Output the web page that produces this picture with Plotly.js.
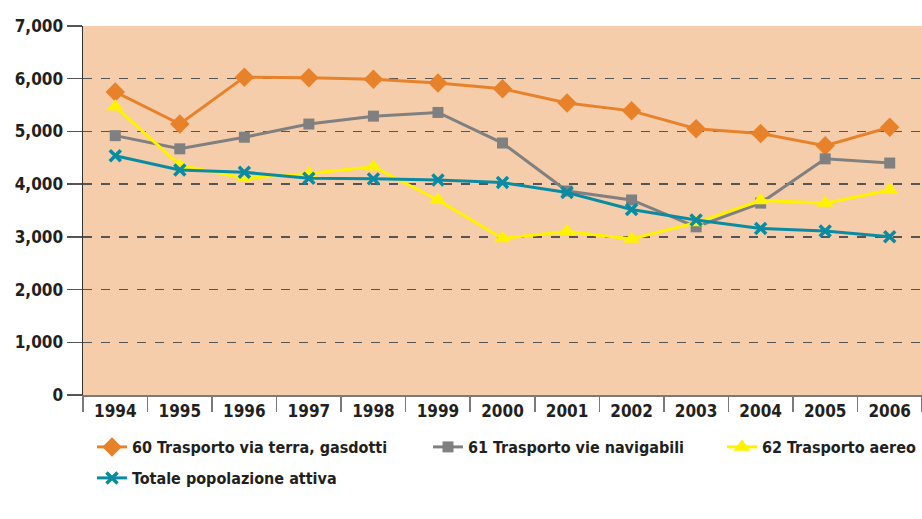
<!DOCTYPE html>
<html>
<head>
<meta charset="utf-8">
<script src="https://cdn.plot.ly/plotly-3.0.1.min.js"></script>
<style>html,body{margin:0;padding:0;background:#fff;}#chart{width:922px;height:519px;}</style>
</head>
<body>
<div id="chart"></div>
<script>
const years = ['1994','1995','1996','1997','1998','1999','2000','2001','2002','2003','2004','2005','2006'];
const terraGasdotti = [5750, 5140, 6030, 6020, 5990, 5920, 5810, 5540, 5390, 5050, 4960, 4730, 5080];
const navigabili    = [4920, 4670, 4890, 5140, 5290, 5360, 4780, 3870, 3700, 3190, 3640, 4480, 4400];
const aereo         = [5470, 4360, 4110, 4200, 4330, 3700, 2970, 3100, 2960, 3270, 3690, 3640, 3890];
const totale        = [4540, 4270, 4225, 4110, 4100, 4080, 4030, 3840, 3520, 3320, 3160, 3110, 3000];
const names = ['60 Trasporto via terra, gasdotti', '61 Trasporto vie navigabili', '62 Trasporto aereo', 'Totale popolazione attiva'];

const FONT = '"Liberation Sans Narrow", "DejaVu Sans Condensed", "Roboto Condensed", sans-serif';

const traces = [
  {x: years, y: terraGasdotti, name: names[0], type: 'scatter', mode: 'lines+markers',
   line: {color: '#E8822A', width: 3}, marker: {symbol: 'diamond', size: 15, color: '#E8822A'}, legend: 'legend'},
  {x: years, y: navigabili, name: names[1], type: 'scatter', mode: 'lines+markers',
   line: {color: '#808080', width: 3}, marker: {symbol: 'square', size: 11, color: '#808080'}, legend: 'legend2'},
  {x: years, y: aereo, name: names[2], type: 'scatter', mode: 'lines+markers',
   line: {color: '#FFF200', width: 3}, marker: {symbol: 'triangle-up', size: 15, color: '#FFF200'}, legend: 'legend3'},
  {x: years, y: totale, name: names[3], type: 'scatter', mode: 'lines+markers',
   line: {color: '#0A8BA2', width: 3}, marker: {symbol: 'x-thin', size: 11, color: '#0A8BA2', line: {color: '#0A8BA2', width: 3.5}}, legend: 'legend4'}
];

function leg(x, y) {
  return {x: x, y: y, xref: 'paper', yref: 'paper', xanchor: 'left', yanchor: 'middle',
    orientation: 'h', bgcolor: 'rgba(0,0,0,0)', itemwidth: 30,
    font: {family: FONT, size: 16, color: '#231F20', weight: 'bold'}};
}
const W = 839, H = 369;
function px2x(p) { return (p - 83) / W; }
function px2y(p) { return (395 - p) / H; }

const layout = {
  width: 922, height: 519,
  margin: {l: 83, r: 0, t: 26, b: 124},
  paper_bgcolor: '#ffffff',
  plot_bgcolor: '#F5CDAA',
  font: {family: FONT, color: '#231F20'},
  showlegend: true,
  xaxis: {
    type: 'category', tickson: 'boundaries', ticks: 'outside', ticklen: 15, tickwidth: 1.5, tickcolor: '#7a7a7a',
    showline: true, linecolor: '#7a7a7a', linewidth: 2, showgrid: false, zeroline: false,
    tickfont: {family: FONT, size: 17, color: '#231F20', weight: 'bold'},
    range: [-0.5, 12.5], fixedrange: true
  },
  yaxis: {
    range: [0, 7000], dtick: 1000, tickformat: ',d', ticks: 'outside', ticklen: 15, tickwidth: 1.5, tickcolor: '#555',
    showline: true, linecolor: '#333', linewidth: 1.5, showgrid: true, gridcolor: '#555', griddash: 'dash', gridwidth: 1.5,
    zeroline: false,
    tickfont: {family: FONT, size: 17, color: '#231F20', weight: 'bold'},
    fixedrange: true
  },
  legend: leg(px2x(92), px2y(447)),
  legend2: leg(px2x(428), px2y(447)),
  legend3: leg(px2x(722), px2y(447)),
  legend4: leg(px2x(92), px2y(478))
};

Plotly.newPlot('chart', traces, layout, {displayModeBar: false, staticPlot: true});
</script>
</body>
</html>
